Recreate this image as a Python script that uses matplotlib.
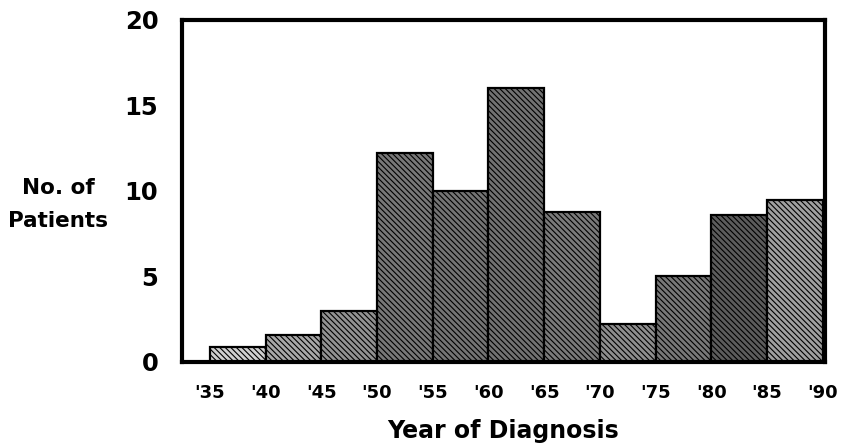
import numpy as np
import matplotlib
matplotlib.use('Agg')
import matplotlib.pyplot as plt

#===============================================================================
bin_starts = [1935, 1940, 1945, 1950, 1955, 1960, 1965, 1970, 1975, 1980, 1985]
patients   = [0.9, 1.6, 3.0, 12.2, 10.0, 16.0, 8.8, 2.2, 5.0, 8.6, 9.5]
tick_years = [1935, 1940, 1945, 1950, 1955, 1960, 1965, 1970, 1975, 1980, 1985, 1990]
tick_text  = ["'35", "'40", "'45", "'50", "'55", "'60", "'65", "'70", "'75", "'80", "'85", "'90"]
y_ticks    = [0, 5, 10, 15, 20]
#===============================================================================
# halftone look: grey fill + dense diagonal hatch
shades = ['#d0d0d0', '#a8a8a8', '#929292', '#787878', '#747474', '#727272',
          '#7a7a7a', '#8e8e8e', '#787878', '#5c5c5c', '#a0a0a0']

plt.rcParams['font.family'] = ['DejaVu Sans']
plt.rcParams['font.weight'] = 'bold'
plt.rcParams['hatch.linewidth'] = 0.8

fig = plt.figure(figsize=(8.44, 4.44), dpi=100)
ax = fig.add_axes([0.2156, 0.1847, 0.7619, 0.7703])

bars = ax.bar(bin_starts, patients, width=5, align='edge',
              color=shades, edgecolor='black', linewidth=1.6, hatch='\\\\\\\\\\\\')

ax.set_xlim(1932.5, 1990.2)
ax.set_ylim(0, 20)
ax.set_xticks(tick_years)
ax.set_xticklabels(tick_text, fontsize=13, fontweight='bold')
ax.set_yticks(y_ticks)
ax.set_yticklabels([str(v) for v in y_ticks], fontsize=17.5, fontweight='bold')
ax.tick_params(axis='x', length=0, pad=16)
ax.tick_params(axis='y', length=0, pad=17)

for sp in ax.spines.values():
    sp.set_linewidth(3)

ax.set_xlabel('Year of Diagnosis', fontsize=17, fontweight='bold', labelpad=12)
fig.text(0.069, 0.540, 'No. of\nPatients', fontsize=15.5, fontweight='bold',
         ha='center', va='center', linespacing=1.8)

plt.savefig('out.png', dpi=100)
